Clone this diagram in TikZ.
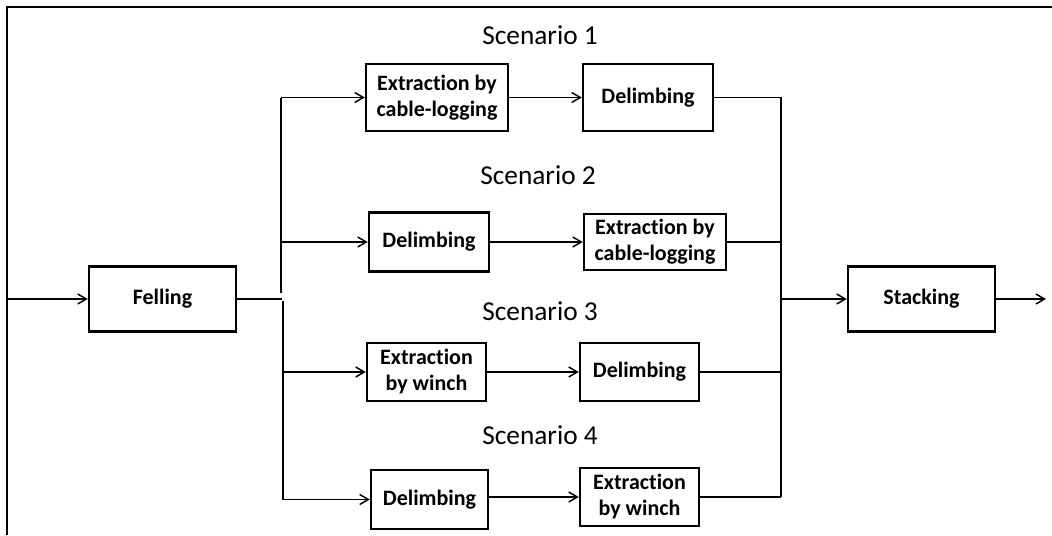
\documentclass[tikz,border=0pt]{standalone}
\usepackage{fontspec}
\setmainfont[Ligatures=NoCommon]{Carlito}
\usetikzlibrary{arrows.meta}
\begin{document}
\begin{tikzpicture}[x=0.75pt,y=-0.75pt,
  box/.style={draw,line width=1.8pt,align=center,inner sep=0pt,
    font=\bfseries\fontsize{16.5}{19.5}\selectfont},
  arr/.style={line width=1.1pt,-{Straight Barb[length=6.5pt,width=7.5pt,line width=1.1pt]}},
  ln/.style={line width=1.1pt},
  thickln/.style={line width=1.8pt},
  frame/.style={line width=1.8pt},
  scen/.style={font=\fontsize{20.5}{24}\selectfont,inner sep=0pt}]
\useasboundingbox (0,0) rectangle (1052,535);
% frame
\coordinate (fTL) at (7,7);
\coordinate (fTR) at (1052,7);
\coordinate (fBL) at (7,535);
\draw[frame] (fTR) -- (fTL) -- (fBL);
% boxes
\node[box,minimum width=110.25pt,minimum height=48.75pt] (fell) at (162.5,299) {Felling};
\node[box,minimum width=106.5pt,minimum height=50.25pt] (ext1) at (437,97.5) {Extraction by\\cable-logging};
\node[box,minimum width=97.5pt,minimum height=50.25pt] (del1) at (648,97.5) {Delimbing};
\node[box,minimum width=90pt,minimum height=44.25pt] (del2) at (429,242) {Delimbing};
\node[box,minimum width=106.5pt,minimum height=42pt] (ext2) at (655,242) {Extraction by\\cable-logging};
\node[box,minimum width=89.25pt,minimum height=43.5pt] (ext3) at (426.5,372) {Extraction\\by winch};
\node[box,minimum width=89.25pt,minimum height=43.5pt] (del3) at (639.5,372) {Delimbing};
\node[box,minimum width=87.75pt,minimum height=44.25pt] (del4) at (429.5,499.5) {Delimbing};
\node[box,minimum width=89.25pt,minimum height=43.5pt] (ext4) at (639.5,497) {Extraction\\by winch};
\node[box,minimum width=110.25pt,minimum height=48.75pt] (stack) at (921.5,299) {Stacking};
% scenario labels
\node[scen] (s1) at (540,35) {Scenario 1};
\node[scen] (s2) at (538,175) {Scenario 2};
\node[scen] (s3) at (540,311) {Scenario 3};
\node[scen] (s4) at (540,435) {Scenario 4};
% coordinates
\coordinate (inL) at (7,299);
\coordinate (fEnd) at (282,299);
\coordinate (uTop) at (281,97.5);
\coordinate (u2) at (281,242);
\coordinate (uBot) at (281,293);
\coordinate (lTop) at (283,301);
\coordinate (l3) at (283,372);
\coordinate (lBot) at (283,499.5);
\coordinate (rTop) at (781,97.5);
\coordinate (r2) at (781,242);
\coordinate (r3) at (781,372);
\coordinate (rBot) at (781,497);
\coordinate (rMid) at (781,299);
\coordinate (outR) at (1046,299);
% connectors
\draw[arr] (inL) -- (fell.west);
\draw[thickln] (fell.east) -- (fEnd);
\draw[ln] (uBot) -- (uTop);
\draw[arr] (uTop) -- (ext1.west);
\draw[arr] (u2) -- (del2.west);
\draw[ln] (lTop) -- (lBot);
\draw[arr] (l3) -- (ext3.west);
\draw[arr] (lBot) -- (del4.west);
\draw[arr] (ext1.east) -- (del1.west);
\draw[arr] (del2.east) -- (ext2.west);
\draw[arr] (ext3.east) -- (del3.west);
\draw[arr] (del4.east |- ext4.west) -- (ext4.west);
\draw[ln] (del1.east) -- (rTop) -- (rBot);
\draw[ln] (ext2.east) -- (r2);
\draw[ln] (del3.east) -- (r3);
\draw[ln] (ext4.east) -- (rBot);
\draw[arr] (rMid) -- (stack.west);
\draw[arr] (stack.east) -- (outR);
\end{tikzpicture}
\end{document}
